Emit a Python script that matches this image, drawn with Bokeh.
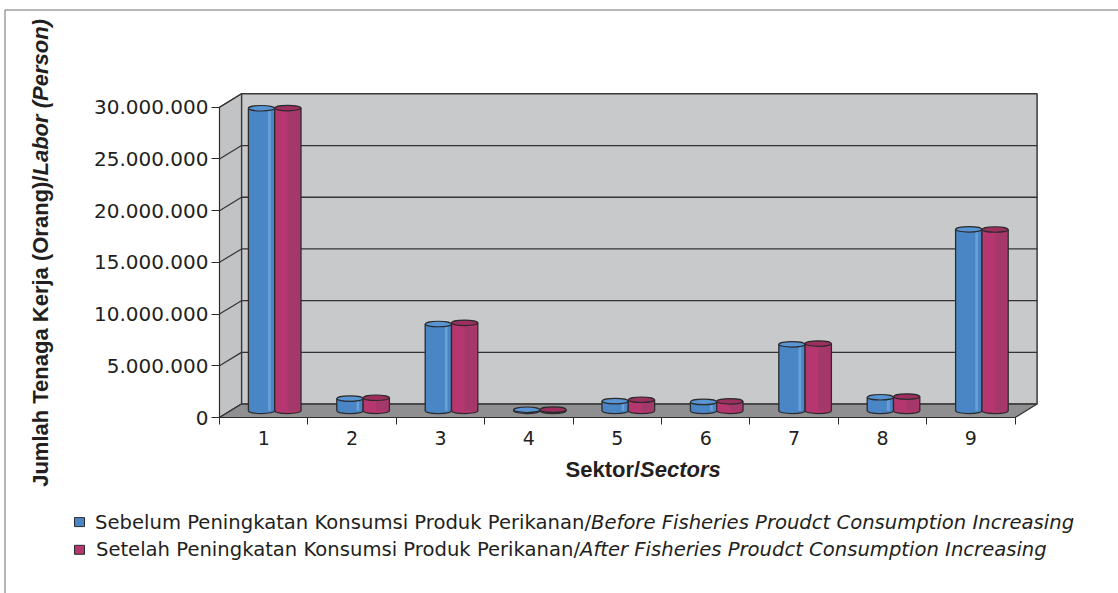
import math
from bokeh.plotting import figure
from bokeh.models import Range1d, FixedTicker, Label, BoxAnnotation, LinearAxis
from bokeh.embed import file_html
from bokeh.resources import INLINE

# ---- data -------------------------------------------------------------
SECTORS = ["1", "2", "3", "4", "5", "6", "7", "8", "9"]
BEFORE = [29_250_000, 1_180_000, 8_390_000, 100_000, 940_000, 860_000, 6_430_000, 1_310_000, 17_550_000]
AFTER = [29_270_000, 1_260_000, 8_510_000, 110_000, 1_070_000, 920_000, 6_500_000, 1_380_000, 17_530_000]
Y_TICKS = [0, 5_000_000, 10_000_000, 15_000_000, 20_000_000, 25_000_000, 30_000_000]
Y_TICK_LABELS = ["0", "5.000.000", "10.000.000", "15.000.000", "20.000.000", "25.000.000", "30.000.000"]
SERIES_ID = ["Sebelum Peningkatan Konsumsi Produk Perikanan/",
             "Setelah Peningkatan Konsumsi Produk Perikanan/"]
SERIES_EN = ["Before Fisheries Proudct Consumption Increasing",
             "After Fisheries Proudct Consumption Increasing"]
Y_TITLE = ["Jumlah Tenaga Kerja (Orang)/", "Labor (Person)"]
X_TITLE = ["Sektor/", "Sectors"]

# ---- geometry (canvas pixels) -----------------------------------------
W, H = 1118, 593
OX, OY = 219, 417          # where sector 0 / zero persons sit on the canvas
UX = 88.4                  # px per sector
UY = 10.343e-6             # px per person
DX = 22 / UX               # depth of the 3-D box, in x units
DY = 13.4 / UY             # depth of the 3-D box, in y units
Y_TOP = Y_TICKS[-1]
N = len(SECTORS)
BW = 26.3 / UX             # cylinder diameter
ELL = 5.5 / UY             # cylinder cap height


def cx(px):
    return (px - OX) / UX


def cy(py):
    return (OY - py) / UY


# ---- colours / fonts --------------------------------------------------
EDGE = "#2b2b2b"
TEXT = "#231f20"
WALL = "#c8c9cb"
SIDE = "#c2c3c5"
FLOOR = "#8f8f91"
BLUE, BLUE_TOP, BLUE_SHADE = "#4a86c6", "#5a95d3", "#6aa0d8"
RED, RED_TOP, RED_SHADE = "#b6366f", "#9c2f5e", "#a5386a"
SANS = "DejaVu Sans"
TITLE_FONT = "Liberation Sans"

p = figure(frame_width=W, frame_height=H, min_border=0,
           x_range=Range1d(cx(0), cx(W)), y_range=Range1d(cy(H), cy(0)),
           x_axis_location=None, y_axis_location=None,
           output_backend="svg", toolbar_location=None,
           outline_line_color=None, background_fill_color="white",
           border_fill_color="white")
p.grid.visible = False

# ---- outer chart border -------------------------------------------------
p.add_layout(BoxAnnotation(left=cx(4.5), right=cx(W + 20), top=cy(9.5), bottom=cy(H + 20),
                           fill_color=None, line_color="#6e6e6e", line_alpha=1,
                           line_width=1, level="underlay"))

# ---- 3-D box: back wall, side wall, floor ------------------------------
p.quad(left=DX, right=N + DX, bottom=DY, top=Y_TOP + DY,
       fill_color=WALL, line_color="#3a3a3a", line_width=1.5)
inner = Y_TICKS[1:-1]
p.segment(x0=[DX] * len(inner), x1=[N + DX] * len(inner),
          y0=[v + DY for v in inner], y1=[v + DY for v in inner],
          line_color="#333333", line_width=1.3)
p.patch([0, DX, DX, 0], [0, DY, Y_TOP + DY, Y_TOP],
        fill_color=SIDE, line_color="#3a3a3a", line_width=1.2)
p.segment(x0=[0] * len(Y_TICKS), x1=[DX] * len(Y_TICKS),
          y0=Y_TICKS, y1=[v + DY for v in Y_TICKS],
          line_color="#333333", line_width=1.2)
p.patch([0, N, N + DX, DX], [0, 0, DY, DY],
        fill_color=FLOOR, line_color="#333333", line_width=1.2)

# ---- cylinders ----------------------------------------------------------
series = [(BEFORE, BLUE, BLUE_SHADE, BLUE_TOP, 0.30, 0.10),
          (AFTER, RED, RED_SHADE, RED_TOP, 0.22, 0.45)]
for s, (vals, body, shade, top, off, frac) in enumerate(series):
    xs = [i + 0.5 + DX / 2 + (s - 0.5) * BW for i in range(N)]
    base = DY / 2
    tops = [v + base for v in vals]
    p.ellipse(x=xs, y=[base] * N, width=BW, height=ELL,
              fill_color=body, line_color=EDGE, line_width=1.2)
    p.vbar(x=xs, width=BW, bottom=base, top=tops,
           fill_color=body, line_color=None)
    p.vbar(x=[x + off * BW for x in xs], width=frac * BW, bottom=base, top=tops,
           fill_color=shade, line_color=None)
    p.segment(x0=[x - BW / 2 for x in xs], x1=[x - BW / 2 for x in xs],
              y0=[base] * N, y1=tops, line_color=EDGE, line_width=1.3)
    p.segment(x0=[x + BW / 2 for x in xs], x1=[x + BW / 2 for x in xs],
              y0=[base] * N, y1=tops, line_color=EDGE, line_width=1.3)
    p.ellipse(x=xs, y=tops, width=BW, height=ELL,
              fill_color=top, line_color=EDGE, line_width=1.2)

# ---- axes, pinned to the front edges of the box ------------------------
yax = LinearAxis(fixed_location=0)
yax.ticker = FixedTicker(ticks=Y_TICKS, minor_ticks=[])
yax.major_label_overrides = {t: l for t, l in zip(Y_TICKS, Y_TICK_LABELS)}
yax.bounds = (0, Y_TOP)
yax.axis_line_color = EDGE
yax.major_tick_line_color = EDGE
yax.major_tick_out = 8
yax.major_tick_in = 0
yax.minor_tick_line_color = None
yax.major_label_standoff = 3
yax.major_label_text_font = SANS
yax.major_label_text_font_size = "20px"
yax.major_label_text_color = TEXT
p.add_layout(yax, "left")

centers = [i + 0.5 for i in range(N)]
xax = LinearAxis(fixed_location=0)
xax.ticker = FixedTicker(ticks=centers, minor_ticks=list(range(N + 1)))
xax.major_label_overrides = {c: s for c, s in zip(centers, SECTORS)}
xax.bounds = (0, N)
xax.axis_line_color = EDGE
xax.major_tick_out = 0
xax.major_tick_in = 0
xax.minor_tick_line_color = EDGE
xax.minor_tick_out = 7
xax.minor_tick_in = 0
xax.major_label_standoff = 6
xax.major_label_text_font = SANS
xax.major_label_text_font_size = "19px"
xax.major_label_text_color = TEXT
p.add_layout(xax, "below")


def label(px, py, text, font, size, style="normal", align="left", angle=0.0):
    p.add_layout(Label(x=cx(px), y=cy(py), text=text, angle=angle,
                       text_font=font, text_font_style=style,
                       text_font_size=f"{size}px", text_color=TEXT,
                       text_align=align, text_baseline="middle"))


# ---- axis titles: upright part ends where the italic part starts -------
TITLE_PX = 22
# advance widths of the upright parts, in em (Liberation Sans Bold)
Y_TITLE_EM = 14.226
X_TITLE_EM = 3.390
y_mid_x, y_start = 40, 488
y_split = y_start - Y_TITLE_EM * TITLE_PX
label(y_mid_x, y_split, Y_TITLE[0], TITLE_FONT, TITLE_PX, "bold", "right", math.pi / 2)
label(y_mid_x, y_split, Y_TITLE[1], TITLE_FONT, TITLE_PX, "bold italic", "left", math.pi / 2)
x_start, x_mid_y = 565, 468.5
x_split = x_start + X_TITLE_EM * TITLE_PX
label(x_split, x_mid_y, X_TITLE[0], TITLE_FONT, TITLE_PX, "bold", "right")
label(x_split, x_mid_y, X_TITLE[1], TITLE_FONT, TITLE_PX, "bold italic", "left")

# ---- legend -------------------------------------------------------------
LEG_PX = 19.6
# advance widths of the upright parts, in em (DejaVu Sans as rendered)
LEG_EM = [25.28, 24.72]
for k, (colour, row_y) in enumerate([(BLUE, 521.6), (RED, 549.3)]):
    p.add_layout(BoxAnnotation(left=cx(74), right=cx(84), top=cy(row_y - 4.5), bottom=cy(row_y + 4.5),
                               fill_color=colour, fill_alpha=1, line_color=EDGE, line_alpha=1,
                               line_width=1))
    split = 95 + LEG_EM[k] * LEG_PX
    label(split, row_y, SERIES_ID[k], SANS, LEG_PX, "normal", "right")
    label(split, row_y, SERIES_EN[k], SANS, LEG_PX, "italic", "left")

open("out.html", "w").write(file_html(p, INLINE))
